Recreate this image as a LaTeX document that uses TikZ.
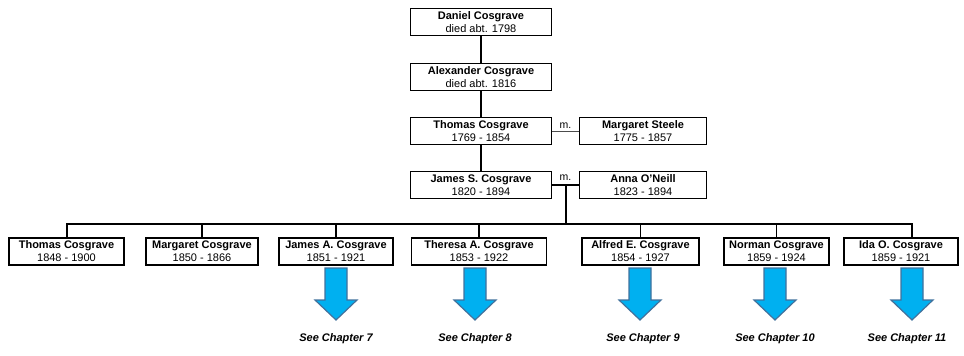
\documentclass[tikz,border=0pt]{standalone}
\usepackage{fontspec}
\setmainfont{Liberation Sans}
\usetikzlibrary{calc}
\definecolor{arrowfill}{RGB}{0,176,240}
\definecolor{arrowline}{RGB}{65,113,156}
\def\chapterarrow[#1](#2)(#3){\draw[#1] ($(#2)+(-11,0)$) -- ($(#2)+(11,0)$) -- ($(#2)+(11,32)$) -- ($(#2)+(21,32)$) -- ($(#2)+(0,#3)$) -- ($(#2)+(-21,32)$) -- ($(#2)+(-11,32)$) -- cycle;}
\tikzset{
	person/.style={draw, line width=1.6pt, minimum height=27pt, inner sep=0pt, align=center, font=\fontsize{11}{13}\selectfont},
	kin/.style={line width=1.4pt},
	chapter/.style={font=\fontsize{11}{13}\selectfont\bfseries\itshape},
	arrowsty/.style={fill=arrowfill, draw=arrowline, line width=1.2pt, line join=miter}
}

\begin{document}
\begin{tikzpicture}[x=1pt, y=-1pt]
			%%%%% START %%%%%
			\useasboundingbox (0,0) rectangle (964,356);
			
			\node[person, minimum width=141pt] (daniel) at (481, 22) {\textbf{Daniel Cosgrave}\\died abt. 1798};
			\node[person, minimum width=141pt] (alexander) at (481, 77) {\textbf{Alexander Cosgrave}\\died abt. 1816};
			\node[person, minimum width=141pt] (thomas) at (481, 131) {\textbf{Thomas Cosgrave}\\1769 - 1854};
			\node[person, minimum width=127pt] (margaret) at (643, 131) {\textbf{Margaret Steele}\\1775 - 1857};
			\node[person, minimum width=141pt] (jamesS) at (481, 185) {\textbf{James S. Cosgrave}\\1820 - 1894};
			\node[person, minimum width=127pt] (anna) at (643, 185) {\textbf{Anna O'Neill}\\1823 - 1894};
			
			\draw[kin] (daniel) -- (alexander);
			\draw[kin] (alexander) -- (thomas);
			\draw[kin] (thomas) -- (jamesS);
			\draw[line width=0.8pt, color=black!70] (thomas) -- node[above=-1pt, font=\fontsize{10.5}{12}\selectfont, color=black] {m.} (margaret);
			\draw[line width=2pt] (jamesS) -- node[above=0pt, font=\fontsize{10.5}{12}\selectfont] {m.} coordinate[midway] (union) (anna);
			
			% children
			\node[person, minimum width=115pt] (thomasC) at (66.5, 251.5) {\textbf{Thomas Cosgrave}\\1848 - 1900};
			\node[person, minimum width=112pt] (margaretC) at (202, 251.5) {\textbf{Margaret Cosgrave}\\1850 - 1866};
			\node[person, minimum width=114pt] (jamesA) at (336, 251.5) {\textbf{James A. Cosgrave}\\1851 - 1921};
			\node[person, minimum width=135pt] (theresaA) at (479, 251.5) {\textbf{Theresa A. Cosgrave}\\1853 - 1922};
			\node[person, minimum width=117pt] (alfredE) at (640.5, 251.5) {\textbf{Alfred E. Cosgrave}\\1854 - 1927};
			\node[person, minimum width=105pt] (normanC) at (776.5, 251.5) {\textbf{Norman Cosgrave}\\1859 - 1924};
			\node[person, minimum width=114pt] (idaO) at (901, 251.5) {\textbf{Ida O. Cosgrave}\\1859 - 1921};
			
			\coordinate (bus) at (565, 224);
			\draw[line width=2pt] (union) -- (union |- bus);
			\draw[line width=2pt] (thomasC.north) |- ([xshift=11pt]idaO.north |- bus) -- ([xshift=11pt]idaO.north);
			\draw[kin] (margaretC.north) -- (margaretC.north |- bus);
			\draw[kin] (jamesA.north) -- (jamesA.north |- bus);
			\draw[kin] (theresaA.north) -- (theresaA.north |- bus);
			\draw[kin] (alfredE.north) -- (alfredE.north |- bus);
			\draw[kin] (normanC.north) -- (normanC.north |- bus);
			
			% chapter pointers
			\chapterarrow[arrowsty](336, 268)(52)
			\chapterarrow[arrowsty](475, 268)(52)
			\chapterarrow[arrowsty](640, 268)(52)
			\chapterarrow[arrowsty](775, 268)(52)
			\chapterarrow[arrowsty](912, 268)(52)
			
			\node[chapter] (see7) at (336, 339) {See Chapter 7};
			\node[chapter] (see8) at (475, 339) {See Chapter 8};
			\node[chapter] (see9) at (643, 339) {See Chapter 9};
			\node[chapter] (see10) at (775, 339) {See Chapter 10};
			\node[chapter] (see11) at (907, 339) {See Chapter 11};
			
			%%%%% END %%%%%
\end{tikzpicture}
\end{document}
